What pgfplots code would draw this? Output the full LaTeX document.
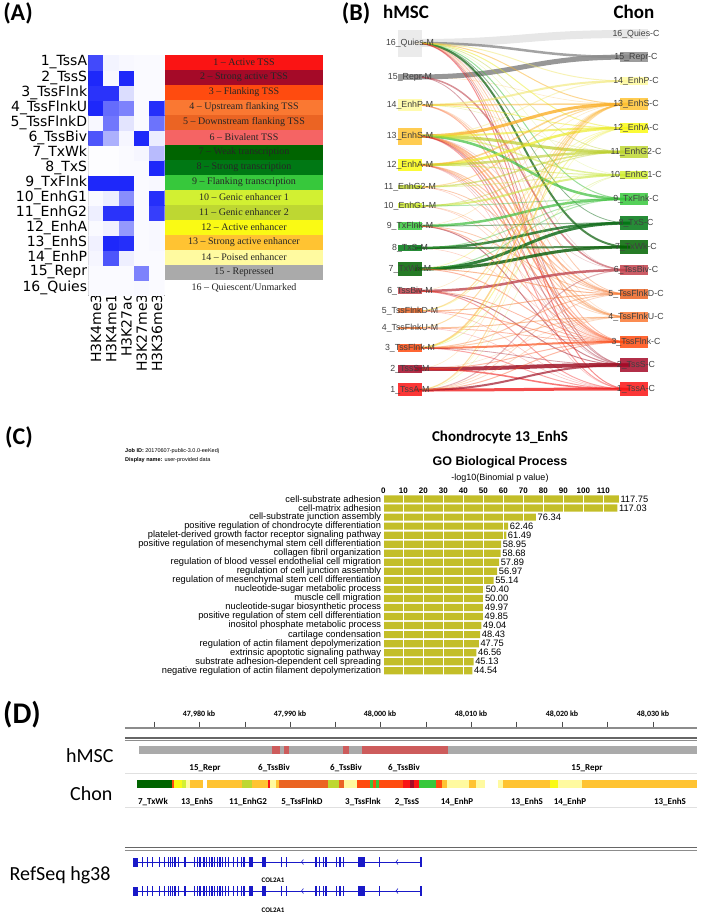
\documentclass[border=0pt]{standalone}
\usepackage{pgfplots}
\pgfplotsset{compat=1.18}
\usepackage{fontspec}
\setmainfont{Liberation Sans}
\newfontfamily\calib{Carlito}
\newfontfamily\dejavu{DejaVu Sans}
\newfontfamily\tnr{Liberation Serif}
\newcommand\fs[1]{\fontsize{#1}{#1}\selectfont}

% chromatin state colours
\definecolor{c1}{RGB}{250,20,20}
\definecolor{c2}{RGB}{165,10,40}
\definecolor{c3}{RGB}{255,75,15}
\definecolor{c4}{RGB}{250,120,50}
\definecolor{c5}{RGB}{235,100,35}
\definecolor{c6}{RGB}{245,100,100}
\definecolor{c6b}{RGB}{195,65,75}
\definecolor{c7}{RGB}{0,100,0}
\definecolor{c8}{RGB}{0,120,20}
\definecolor{c9}{RGB}{55,200,60}
\definecolor{c10}{RGB}{210,240,50}
\definecolor{c11}{RGB}{190,215,50}
\definecolor{c12}{RGB}{250,250,20}
\definecolor{c13}{RGB}{255,195,50}
\definecolor{c14}{RGB}{255,250,160}
\definecolor{c15}{RGB}{170,170,170}
\definecolor{c16}{RGB}{232,232,232}
\definecolor{tsbiv}{RGB}{205,92,92}
\definecolor{barcol}{RGB}{195,190,40}
\definecolor{gb}{RGB}{25,25,200}
% flow colours (by target state)
\definecolor{fc16}{RGB}{215,215,215}
\definecolor{fc15}{RGB}{140,140,140}
\definecolor{fc14}{RGB}{240,230,110}
\definecolor{fc13}{RGB}{250,175,40}
\definecolor{fc12}{RGB}{235,235,40}
\definecolor{fc11}{RGB}{185,205,40}
\definecolor{fc10}{RGB}{200,230,60}
\definecolor{fc9}{RGB}{60,190,60}
\definecolor{fc8}{RGB}{20,110,30}
\definecolor{fc7}{RGB}{20,100,20}
\definecolor{fc6}{RGB}{190,70,80}
\definecolor{fc5}{RGB}{245,120,50}
\definecolor{fc4}{RGB}{245,135,60}
\definecolor{fc3}{RGB}{250,80,30}
\definecolor{fc2}{RGB}{160,20,40}
\definecolor{fc1}{RGB}{240,30,30}

\pgfplotsset{colormap={wb}{rgb255=(255,255,255) rgb255=(20,30,250)}}

% node heights in panel B (hMSC left, Chon right)
\def\setY#1#2#3{\expandafter\def\csname LY#1\endcsname{#2}\expandafter\def\csname RY#1\endcsname{#3}}
\setY{16}{43}{34}\setY{15}{77}{57}\setY{14}{105}{81}\setY{13}{136}{104}
\setY{12}{165}{128}\setY{11}{187}{152}\setY{10}{206}{175}\setY{9}{226}{199}
\setY{8}{248}{223}\setY{7}{269}{247}\setY{6}{291}{270}\setY{5}{311}{294}
\setY{4}{328}{317}\setY{3}{348}{342}\setY{2}{369}{365}\setY{1}{390}{389}

\newcommand\flow[4]{\edef\tmp{\noexpand\draw[line width=#3pt, draw=fc#2, draw opacity=#4]
  (axis cs:415,\csname LY#1\endcsname) .. controls (axis cs:520,\csname LY#1\endcsname)
  and (axis cs:525,\csname RY#2\endcsname) .. (axis cs:630,\csname RY#2\endcsname);}\tmp}
\newcommand\lb[3]{\fill[#3, fill opacity=0.85] (axis cs:398,#1) rectangle (axis cs:422,#2);}
\newcommand\rb[3]{\fill[#3, fill opacity=0.85] (axis cs:620,#1) rectangle (axis cs:648,#2);}
\newcommand\seg[5]{\fill[#5] (axis cs:#1,#3) rectangle (axis cs:#2,#4);}

\newcommand\gene[1]{%
  \draw[gb, line width=0.8pt] (axis cs:133,#1) -- (axis cs:421,#1);
  \fill[gb] (axis cs:133.3,{#1-4.5}) rectangle (axis cs:138.3,{#1+4.5});
  \pgfplotsinvokeforeach{142.7,147.7,152.7,159.3,164.3,168.3,170.7,172.7,175,178.3,185,194.3,197.3,200,204,206.7,209.3,212,214.7,217.3,220,222.7,225.3,228.3,233.3,237.3,241.7,244,281.7,286.7,316,319.3,323.3,326,336.7,340,343.3,379.3}{%
    \fill[gb] (axis cs:{##1-0.7},{#1-5}) rectangle (axis cs:{##1+0.7},{#1+5});}
  \fill[gb] (axis cs:249.3,{#1-5}) rectangle (axis cs:253.3,{#1+5});
  \fill[gb] (axis cs:261.7,{#1-5}) rectangle (axis cs:266,{#1+5});
  \fill[gb] (axis cs:358.3,{#1-5}) rectangle (axis cs:365,{#1+5});
  \fill[gb] (axis cs:420,{#1-5}) rectangle (axis cs:421.6,{#1+5});
  \draw[gb, line width=0.6pt] (axis cs:303.5,{#1-2.5}) -- (axis cs:301.5,#1) -- (axis cs:303.5,{#1+2.5});
  \draw[gb, line width=0.6pt] (axis cs:398,{#1-2.5}) -- (axis cs:396,#1) -- (axis cs:398,{#1+2.5});
}

\begin{document}
\begin{tikzpicture}
\useasboundingbox (0,0) rectangle (709pt,-916pt);

% ---------------- (A) heatmap
\begin{axis}[at={(88.3pt,-55pt)}, anchor=north west, scale only axis,
  width=76.4pt, height=240pt,
  xmin=-0.5, xmax=4.5, ymin=0.5, ymax=16.5,
  axis x line*=bottom, axis y line*=left,
  axis line style={-, black!85, line width=1pt},
  major tick length=0pt,
  xtick={0,...,4}, xticklabels={H3K4me3,H3K4me1,H3K27ac,H3K27me3,H3K36me3},
  xticklabel style={rotate=90, anchor=east, font=\dejavu\fs{14}, inner sep=1pt, xshift=2pt},
  ytick={1,...,16},
  yticklabels={16\_Quies,15\_Repr,14\_EnhP,13\_EnhS,12\_EnhA,11\_EnhG2,10\_EnhG1,9\_TxFlnk,8\_TxS,7\_TxWk,6\_TssBiv,5\_TssFlnkD,4\_TssFlnkU,3\_TssFlnk,2\_TssS,1\_TssA},
  yticklabel style={font=\dejavu\fs{14}, inner sep=1pt},
  colormap name=wb, point meta min=0, point meta max=1]
\addplot[matrix plot*, mesh/cols=5, point meta=explicit] table[meta=v, row sep=\\] {
x y v\\
0 1 .02\\ 1 1 .02\\ 2 1 .02\\ 3 1 .03\\ 4 1 .02\\
0 2 .02\\ 1 2 .02\\ 2 2 .02\\ 3 2 .55\\ 4 2 .02\\
0 3 .04\\ 1 3 .75\\ 2 3 .07\\ 3 3 .02\\ 4 3 .02\\
0 4 .06\\ 1 4 .95\\ 2 4 .92\\ 3 4 .02\\ 4 4 .03\\
0 5 .02\\ 1 5 .06\\ 2 5 .45\\ 3 5 .02\\ 4 5 .03\\
0 6 .07\\ 1 6 .90\\ 2 6 .90\\ 3 6 .02\\ 4 6 .85\\
0 7 .02\\ 1 7 .07\\ 2 7 .50\\ 3 7 .02\\ 4 7 .92\\
0 8 .95\\ 1 8 .95\\ 2 8 .95\\ 3 8 .02\\ 4 8 .03\\
0 9 .01\\ 1 9 .01\\ 2 9 .02\\ 3 9 .02\\ 4 9 .95\\
0 10 .01\\ 1 10 .01\\ 2 10 .02\\ 3 10 .04\\ 4 10 .30\\
0 11 .75\\ 1 11 .35\\ 2 11 .04\\ 3 11 .95\\ 4 11 .08\\
0 12 .03\\ 1 12 .60\\ 2 12 .12\\ 3 12 .02\\ 4 12 .62\\
0 13 .95\\ 1 13 .65\\ 2 13 .55\\ 3 13 .02\\ 4 13 .92\\
0 14 .90\\ 1 14 .90\\ 2 14 .15\\ 3 14 .02\\ 4 14 .02\\
0 15 .95\\ 1 15 .03\\ 2 15 .95\\ 3 15 .02\\ 4 15 .02\\
0 16 .80\\ 1 16 .05\\ 2 16 .03\\ 3 16 .02\\ 4 16 .02\\
};
\end{axis}

\begin{scope}[x=1pt, y=-1pt]
\node[font=\calib\bfseries\fs{24}] at (18,13) {(A)};
\node[font=\calib\bfseries\fs{24}] at (356,13) {(B)};
\node[font=\calib\bfseries\fs{24}] at (19,437) {(C)};
\node[font=\calib\bfseries\fs{30}] at (22,715) {(D)};
% state key
\foreach \i in {1,...,15}{\fill[c\i] (165,{55+15*(\i-1)}) rectangle (323,{55+15*\i});
  \draw[white, line width=0.4pt] (165,{55+15*\i}) -- (323,{55+15*\i});}
\foreach \i/\t in {1/{1 – Active TSS}, 2/{2 – Strong active TSS}, 3/{3 – Flanking TSS},
  4/{4 – Upstream flanking TSS}, 5/{5 – Downstream flanking TSS}, 6/{6 – Bivalent TSS},
  7/{7 – Weak transcription}, 8/{8 – Strong transcription}, 9/{9 – Flanking transcription},
  10/{10 – Genic enhancer 1}, 11/{11 – Genic enhancer 2}, 12/{12 – Active enhancer},
  13/{13 – Strong active enhancer}, 14/{14 – Poised enhancer}, 15/{15 - Repressed},
  16/{16 – Quiescent/Unmarked}}
  {\node[font=\tnr\fs{10}, text=black!85, inner sep=0pt] at (244,{55+15*(\i-0.5)}) {\t};}
% panel C text
\node[font=\calib\bfseries\fs{15}] at (500,437) {Chondrocyte 13\_EnhS};
\node[font=\bfseries\fs{12.5}] at (500,462) {GO Biological Process};
\node[font=\fs{9}] at (500,478) {-log10(Binomial p value)};
\node[font=\fs{5.5}, anchor=west, inner sep=0pt] at (125,451) {\textbf{Job ID:} 20170607-public-3.0.0-eeKedj};
\node[font=\fs{5.5}, anchor=west, inner sep=0pt] at (125,460) {\textbf{Display name:} user-provided data};
\end{scope}

% ---------------- (B) state transitions
\begin{axis}[at={(415pt,-20pt)}, anchor=north west, scale only axis,
  width=215pt, height=380pt, xmin=415, xmax=630, ymin=20, ymax=400,
  y dir=reverse, hide axis, clip=false]
\addplot[draw=none, mark=none] coordinates {(415,20) (630,400)};
% faint background transitions
\flow{16}{4}{0.6}{0.25}\flow{16}{6}{0.6}{0.25}\flow{15}{13}{0.6}{0.25}\flow{14}{5}{0.6}{0.25}
\flow{12}{1}{0.6}{0.25}\flow{11}{3}{0.6}{0.25}\flow{10}{3}{0.6}{0.25}\flow{9}{13}{0.6}{0.25}
\flow{8}{3}{0.6}{0.25}\flow{6}{13}{0.6}{0.25}\flow{5}{1}{0.6}{0.25}\flow{4}{1}{0.6}{0.25}
\flow{2}{13}{0.6}{0.25}\flow{1}{12}{0.6}{0.25}\flow{2}{4}{0.6}{0.25}\flow{1}{10}{0.6}{0.25}
\flow{14}{11}{0.6}{0.25}\flow{13}{6}{0.6}{0.25}\flow{12}{2}{0.6}{0.25}\flow{16}{10}{0.6}{0.25}
% main transitions
\flow{16}{16}{8}{0.6}\flow{16}{15}{2.5}{0.8}\flow{15}{15}{5}{0.9}\flow{16}{7}{2}{0.75}
\flow{16}{8}{0.8}{0.5}\flow{16}{9}{1}{0.5}\flow{16}{1}{1}{0.5}\flow{16}{2}{0.8}{0.4}
\flow{15}{6}{1.5}{0.6}\flow{15}{2}{0.8}{0.4}\flow{16}{14}{1}{0.5}\flow{16}{13}{1}{0.5}
\flow{16}{12}{1}{0.5}\flow{16}{11}{0.8}{0.4}\flow{16}{3}{0.8}{0.4}\flow{16}{5}{0.8}{0.4}
\flow{14}{14}{2}{0.6}\flow{14}{13}{1.5}{0.5}\flow{14}{12}{1}{0.5}\flow{14}{3}{1}{0.4}
\flow{14}{4}{1}{0.4}\flow{13}{13}{3}{0.8}\flow{13}{11}{3}{0.7}\flow{13}{12}{2}{0.6}
\flow{13}{9}{2.5}{0.7}\flow{13}{10}{1.5}{0.5}\flow{13}{3}{1.5}{0.5}\flow{13}{4}{1.5}{0.5}
\flow{13}{5}{1.5}{0.5}\flow{13}{2}{1}{0.4}\flow{13}{1}{1}{0.4}\flow{13}{14}{1}{0.4}
\flow{12}{12}{2.5}{0.7}\flow{12}{11}{2.5}{0.6}\flow{12}{13}{1.5}{0.5}\flow{12}{10}{1}{0.5}
\flow{12}{4}{1}{0.4}\flow{12}{5}{1}{0.4}\flow{12}{3}{1}{0.4}\flow{11}{11}{1.5}{0.5}
\flow{11}{10}{1}{0.4}\flow{11}{13}{1}{0.4}\flow{11}{5}{0.8}{0.4}\flow{10}{10}{2}{0.6}
\flow{10}{11}{1}{0.4}\flow{10}{9}{1}{0.4}\flow{10}{4}{0.8}{0.3}\flow{9}{9}{2.5}{0.7}
\flow{9}{8}{1}{0.5}\flow{9}{2}{1}{0.5}\flow{9}{3}{1}{0.4}\flow{9}{5}{0.8}{0.4}
\flow{8}{8}{2.5}{0.8}\flow{8}{7}{2}{0.7}\flow{8}{9}{1}{0.4}\flow{7}{7}{3}{0.85}
\flow{7}{8}{3}{0.85}\flow{7}{5}{1}{0.5}\flow{7}{3}{1}{0.4}\flow{7}{9}{1}{0.4}
\flow{7}{12}{0.8}{0.3}\flow{6}{6}{2.5}{0.8}\flow{6}{2}{1}{0.5}\flow{6}{1}{1}{0.4}
\flow{6}{3}{0.8}{0.4}\flow{5}{5}{1}{0.5}\flow{5}{13}{1}{0.4}\flow{5}{3}{1}{0.4}
\flow{5}{12}{0.8}{0.3}\flow{4}{4}{1}{0.5}\flow{4}{13}{1}{0.4}\flow{4}{3}{0.8}{0.4}
\flow{3}{3}{2}{0.7}\flow{3}{13}{1.5}{0.5}\flow{3}{12}{1}{0.4}\flow{3}{10}{0.8}{0.3}
\flow{3}{1}{1}{0.4}\flow{3}{5}{1}{0.4}\flow{3}{4}{1}{0.4}\flow{3}{2}{0.8}{0.4}
\flow{2}{2}{4}{0.85}\flow{2}{1}{1.5}{0.6}\flow{2}{3}{1}{0.4}\flow{1}{1}{3}{0.8}
\flow{1}{2}{2}{0.7}\flow{1}{3}{1}{0.4}\flow{1}{13}{1}{0.4}\flow{1}{6}{1}{0.4}
\flow{1}{4}{0.8}{0.3}\flow{1}{5}{0.8}{0.3}
% node boxes
\lb{30}{57}{c16}\lb{74}{80}{fc15}\lb{99}{111}{c14}\lb{128}{145}{c13}\lb{159}{171}{c12}
\lb{185}{189}{c11}\lb{203}{208}{c10}\lb{222}{230}{c9}\lb{245}{251}{c8}\lb{262}{276}{c7}
\lb{288}{294}{c6b}\lb{308}{313}{c5}\lb{327}{329}{c4}\lb{344}{352}{c3}\lb{365}{373}{c2}\lb{383}{396}{c1}
\rb{29}{39}{c16}\rb{52}{62}{fc15}\rb{77}{85}{c14}\rb{98}{110}{c13}\rb{123}{133}{c12}
\rb{146}{158}{c11}\rb{171}{179}{c10}\rb{193}{205}{c9}\rb{216}{230}{c8}\rb{240}{254}{c7}
\rb{265}{275}{c6b}\rb{289}{299}{c5}\rb{312}{322}{c4}\rb{336}{348}{c3}\rb{358}{372}{c2}\rb{382}{396}{c1}
% node labels
\pgfplotsinvokeforeach{16/Quies,15/Repr,14/EnhP,13/EnhS,12/EnhA,11/EnhG2,10/EnhG1,9/TxFlnk,8/TxS,7/TxWk,6/TssBiv,5/TssFlnkD,4/TssFlnkU,3/TssFlnk,2/TssS,1/TssA}{%
  \def\pr##1/##2\relax{%
    \edef\tmp{\noexpand\node[font=\noexpand\fs{8.8}, text=black!75, inner sep=0pt] at (axis cs:410,\csname LY##1\endcsname) {##1\noexpand\_##2-M};
    \noexpand\node[font=\noexpand\fs{8.8}, text=black!75, inner sep=0pt] at (axis cs:636,\csname RY##1\endcsname) {##1\noexpand\_##2-C};}\tmp}%
  \pr#1\relax}
\node[font=\calib\bfseries\fs{19}] at (axis cs:406,12) {hMSC};
\node[font=\calib\bfseries\fs{19}] at (axis cs:634,12) {Chon};
\end{axis}

% ---------------- (C) GO enrichment bars
\begin{axis}[at={(383.3pt,-494.5pt)}, anchor=north west, scale only axis,
  width=240pt, height=180.8pt,
  xbar, bar width=7.2pt,
  xmin=0, xmax=120, ymin=0.5, ymax=20.5,
  axis line style={draw=none}, major tick length=0pt,
  /pgf/number format/assume math mode=true,
  xtick={0,10,...,110}, xticklabel pos=right,
  xticklabel style={font=\bfseries\fs{8}, inner sep=0pt, anchor=south, yshift=1pt},
  ytick={1,...,20},
  yticklabels={negative regulation of actin filament depolymerization,
    substrate adhesion-dependent cell spreading,
    extrinsic apoptotic signaling pathway,
    regulation of actin filament depolymerization,
    cartilage condensation,
    inositol phosphate metabolic process,
    positive regulation of stem cell differentiation,
    nucleotide-sugar biosynthetic process,
    muscle cell migration,
    nucleotide-sugar metabolic process,
    regulation of mesenchymal stem cell differentiation,
    regulation of cell junction assembly,
    regulation of blood vessel endothelial cell migration,
    collagen fibril organization,
    positive regulation of mesenchymal stem cell differentiation,
    platelet-derived growth factor receptor signaling pathway,
    positive regulation of chondrocyte differentiation,
    cell-substrate junction assembly,
    cell-matrix adhesion,
    cell-substrate adhesion},
  yticklabel style={font=\fs{9.3}, inner sep=0pt, anchor=east, xshift=-2pt},
  xmajorgrids, grid style={white, line width=0.9pt}, axis on top,
  point meta=x,
  nodes near coords={\pgfmathprintnumber[fixed, fixed zerofill, precision=2]{\pgfplotspointmeta}},
  nodes near coords style={font=\fs{9.3}, anchor=west, inner sep=1.5pt},
  clip=false]
\addplot[fill=barcol, draw=none] coordinates {
  (44.54,1) (45.13,2) (46.56,3) (47.75,4) (48.43,5) (49.04,6) (49.85,7)
  (49.97,8) (50.00,9) (50.40,10) (55.14,11) (56.97,12) (57.89,13) (58.68,14)
  (58.95,15) (61.49,16) (62.46,17) (76.34,18) (117.03,19) (117.75,20)};
\end{axis}

% ---------------- (D) genome browser
\begin{axis}[at={(125pt,-700pt)}, anchor=north west, scale only axis,
  width=572pt, height=216pt, xmin=125, xmax=697, ymin=700, ymax=916,
  y dir=reverse, hide axis, clip=false]
\addplot[draw=none, mark=none] coordinates {(125,700) (697,916)};
% ruler
\draw[black!45, line width=1.6pt] (axis cs:125,728) -- (axis cs:697,728);
\pgfplotsinvokeforeach{154,199,245,290,335,380,426,471,516,562,607,653}{%
  \draw[black!70, line width=0.9pt] (axis cs:#1,721.5) -- (axis cs:#1,727);}
\node[font=\calib\bfseries\fs{8}] at (axis cs:199,714) {47,980 kb};
\node[font=\calib\bfseries\fs{8}] at (axis cs:290,714) {47,990 kb};
\node[font=\calib\bfseries\fs{8}] at (axis cs:380,714) {48,000 kb};
\node[font=\calib\bfseries\fs{8}] at (axis cs:471,714) {48,010 kb};
\node[font=\calib\bfseries\fs{8}] at (axis cs:562,714) {48,020 kb};
\node[font=\calib\bfseries\fs{8}] at (axis cs:653,714) {48,030 kb};
\draw[black!60, line width=1.6pt] (axis cs:125,737.8) -- (axis cs:697,737.8);
\draw[black!45, line width=1pt] (axis cs:125,740.8) -- (axis cs:697,740.8);
% hMSC track
\seg{139}{272}{746}{754}{c15}\seg{272}{280}{746}{754}{tsbiv}\seg{280}{283.5}{746}{754}{c15}
\seg{283.5}{289}{746}{754}{tsbiv}\seg{289}{343}{746}{754}{c15}\seg{343}{349}{746}{754}{tsbiv}
\seg{349}{362}{746}{754}{c15}\seg{362}{448}{746}{754}{tsbiv}\seg{448}{697}{746}{754}{c15}
\draw[black!12, line width=1pt] (axis cs:125,773) -- (axis cs:697,773);
% Chon track
\seg{137}{172}{780}{788}{c7}\seg{172}{173.5}{780}{788}{c3}\seg{173.5}{182}{780}{788}{c12}
\seg{182}{186}{780}{788}{c10}\seg{186}{190}{780}{788}{c14}\seg{190}{203}{780}{788}{c13}
\seg{207}{242}{780}{788}{c13}\seg{242}{252}{780}{788}{c11}\seg{252}{268}{780}{788}{c13}
\seg{268}{270}{780}{788}{c1}\seg{270}{276}{780}{788}{c14}\seg{276}{279}{780}{788}{c13}
\seg{279}{328}{780}{788}{c5}\seg{328}{339}{780}{788}{c11}\seg{339}{344}{780}{788}{c5}
\seg{344}{357}{780}{788}{c14}\seg{357}{370}{780}{788}{c3}\seg{370}{373}{780}{788}{c9}
\seg{373}{376}{780}{788}{c3}\seg{376}{379}{780}{788}{c9}\seg{379}{403}{780}{788}{c3}
\seg{403}{410}{780}{788}{c1}\seg{410}{414}{780}{788}{c2}\seg{414}{419}{780}{788}{c1}
\seg{419}{436}{780}{788}{c9}\seg{436}{442}{780}{788}{c3}\seg{442}{447}{780}{788}{c13}
\seg{447}{469}{780}{788}{c14}\seg{469}{476}{780}{788}{c13}\seg{476}{485}{780}{788}{c14}
\seg{498}{503}{780}{788}{c14}\seg{503}{550}{780}{788}{c13}\seg{550}{558}{780}{788}{c12}
\seg{558}{582}{780}{788}{c14}\seg{582}{697}{780}{788}{c13}
\draw[black!12, line width=1pt] (axis cs:125,807) -- (axis cs:697,807);
% state labels
\node[font=\calib\bfseries\fs{9}] at (axis cs:205,768) {15\_Repr};
\node[font=\calib\bfseries\fs{9}] at (axis cs:274,768) {6\_TssBiv};
\node[font=\calib\bfseries\fs{9}] at (axis cs:346,768) {6\_TssBiv};
\node[font=\calib\bfseries\fs{9}] at (axis cs:404,768) {6\_TssBiv};
\node[font=\calib\bfseries\fs{9}] at (axis cs:587,768) {15\_Repr};
\node[font=\calib\bfseries\fs{9}] at (axis cs:153,802) {7\_TxWk};
\node[font=\calib\bfseries\fs{9}] at (axis cs:197,802) {13\_EnhS};
\node[font=\calib\bfseries\fs{9}] at (axis cs:248,802) {11\_EnhG2};
\node[font=\calib\bfseries\fs{9}] at (axis cs:302,802) {5\_TssFlnkD};
\node[font=\calib\bfseries\fs{9}] at (axis cs:363,802) {3\_TssFlnk};
\node[font=\calib\bfseries\fs{9}] at (axis cs:407,802) {2\_TssS};
\node[font=\calib\bfseries\fs{9}] at (axis cs:457,802) {14\_EnhP};
\node[font=\calib\bfseries\fs{9}] at (axis cs:527,802) {13\_EnhS};
\node[font=\calib\bfseries\fs{9}] at (axis cs:570,802) {14\_EnhP};
\node[font=\calib\bfseries\fs{9}] at (axis cs:670,802) {13\_EnhS};
% RefSeq
\draw[black!60, line width=1.6pt] (axis cs:125,847.5) -- (axis cs:697,847.5);
\draw[black!45, line width=1pt] (axis cs:125,850.8) -- (axis cs:697,850.8);
\gene{862}
\gene{891}
\node[font=\calib\bfseries\fs{7}] at (axis cs:273,880) {COL2A1};
\node[font=\calib\bfseries\fs{7}] at (axis cs:273,910) {COL2A1};
\node[font=\calib\fs{20}, anchor=east] at (axis cs:117,756) {hMSC};
\node[font=\calib\fs{20}, anchor=east] at (axis cs:116,794) {Chon};
\node[font=\calib\fs{20}, anchor=east] at (axis cs:114,875) {RefSeq hg38};
\end{axis}
\end{tikzpicture}
\end{document}
